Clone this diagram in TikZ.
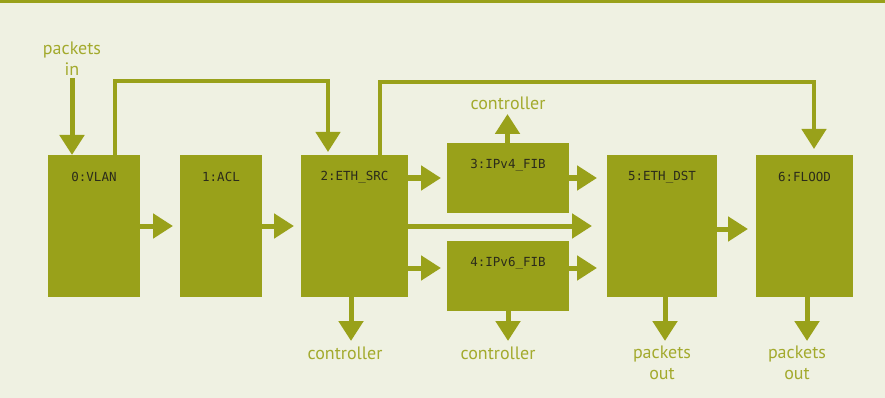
\documentclass[tikz,border=0pt]{standalone}
\usepackage{fontspec}
\setmainfont{PT Sans}
\newfontfamily\boxmono{DejaVu Sans Mono}
\usetikzlibrary{arrows.meta,calc}
\definecolor{bgc}{HTML}{EFF1E2}
\definecolor{olive}{HTML}{99A11A}
\definecolor{txt}{HTML}{A3AA2D}
\definecolor{dark}{HTML}{2B2B1B}
\tikzset{
  tbl/.style={fill=olive, draw=none, anchor=north west, inner sep=0pt, outer sep=0pt},
  tlab/.style={font=\boxmono\fontsize{12.5}{14}\selectfont, text=dark, anchor=center, yshift=-22pt},
  arr/.style={draw=olive, line width=5pt, -{Triangle[length=20pt,width=24pt]}},
  loopline/.style={draw=olive, line width=4.5pt, -{Triangle[length=20pt,width=24pt]}},
  ext/.style={font=\fontsize{18}{21}\selectfont, text=txt, align=center, inner sep=0pt},
}
\begin{document}
\begin{tikzpicture}[x=1pt,y=-1pt]
\useasboundingbox (0,0) rectangle (885,398);
\fill[bgc] (0,0) rectangle (885,398);
\fill[olive] (0,0) rectangle (885,3);
% tables
\node[tbl, minimum width=92pt, minimum height=142pt, label={[tlab]north:{0:VLAN}}] (vlan) at (48,155) {};
\node[tbl, minimum width=82pt, minimum height=142pt, label={[tlab]north:{1:ACL}}] (acl) at (180,155) {};
\node[tbl, minimum width=107pt, minimum height=142pt, label={[tlab]north:{2:ETH\_SRC}}] (src) at (301,155) {};
\node[tbl, minimum width=122pt, minimum height=70pt, label={[tlab]north:{3:IPv4\_FIB}}] (ipv4) at (447,143) {};
\node[tbl, minimum width=122pt, minimum height=70pt, label={[tlab]north:{4:IPv6\_FIB}}] (ipv6) at (447,241) {};
\node[tbl, minimum width=110pt, minimum height=142pt, label={[tlab]north:{5:ETH\_DST}}] (dst) at (607,155) {};
\node[tbl, minimum width=97pt, minimum height=142pt, label={[tlab]north:{6:FLOOD}}] (flood) at (756,155) {};
% external labels
\node[ext] (pin) at (72,59) {packets\\in};
\node[ext] (c3) at (508,103) {controller};
\node[ext] (c2) at (345,353) {controller};
\node[ext] (c4) at (498,353) {controller};
\node[ext] (o5) at (662,363) {packets\\out};
\node[ext] (o6) at (797,363) {packets\\out};
% arrows
\draw[arr, shorten <=2pt] (pin.south) -- (pin.south |- vlan.north);
\draw[loopline] ($(vlan.north west)+(67,0)$) |- ($(src.north west)+(27,-74)$) -- ($(src.north west)+(27,-3)$);
\draw[loopline] ($(src.north west)+(79,0)$) |- ($(flood.north west)+(58,-73)$) -- ($(flood.north west)+(58,-6)$);
\draw[arr, shorten >=7pt] (vlan.east) -- (acl.west);
\draw[arr, shorten >=7pt] (acl.east) -- (src.west);
\draw[arr, shorten >=6pt] (src.east |- ipv4.west) -- (ipv4.west);
\draw[arr, shorten >=15pt] (src.east) -- (dst.west);
\draw[arr, shorten >=6pt] ($(src.east |- ipv6.west)+(0,-8)$) -- ($(ipv6.west)+(0,-8)$);
\draw[arr, shorten >=10pt] (ipv4.east) -- (ipv4.east -| dst.west);
\draw[arr, shorten >=10pt] ($(ipv6.east)+(0,-8)$) -- ($(ipv6.east -| dst.west)+(0,-8)$);
\draw[arr, shorten >=8pt] ($(dst.east)+(0,3)$) -- ($(flood.west)+(0,3)$);
\draw[arr] ($(ipv4.north)+(-0.5,0)$) -- ($(ipv4.north)+(-0.5,-29)$);
\draw[arr] ($(src.south)+(-3.5,0)$) -- ($(src.south)+(-3.5,44)$);
\draw[arr] (ipv6.south) -- ($(ipv6.south)+(0,30)$);
\draw[arr] ($(dst.south)+(3,0)$) -- ($(dst.south)+(3,44)$);
\draw[arr] ($(flood.south)+(2.5,0)$) -- ($(flood.south)+(2.5,44)$);
\end{tikzpicture}
\end{document}
